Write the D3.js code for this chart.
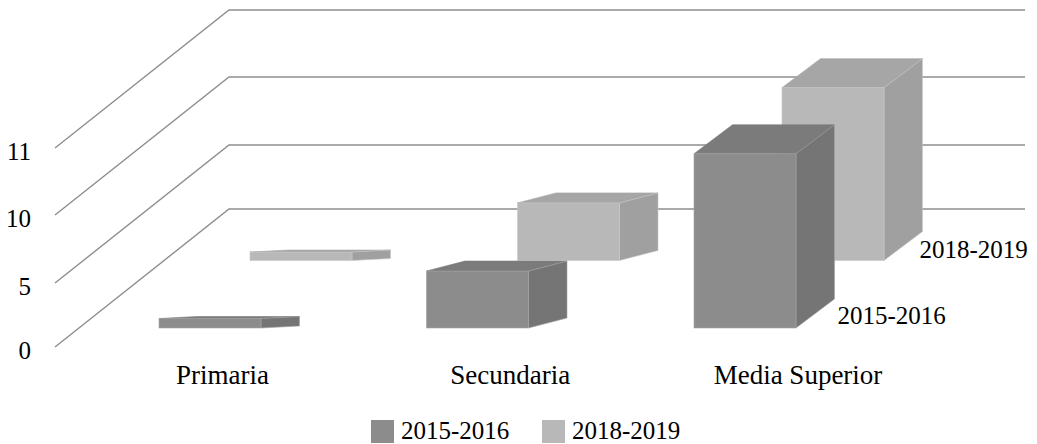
<!DOCTYPE html>
<html>
<head>
<meta charset="utf-8">
<title>Primaria, Secundaria, Media Superior</title>
<style>
  html, body { margin: 0; background: #fff; }
  svg { display: block; background: #fff; }
  text { font-family: "Liberation Serif", serif; font-size: 25px; fill: #000; }
  .xlabels text { font-size: 27px; }
  .grid { fill: none; stroke: #8e8e8e; stroke-width: 1.4; }
  .face { stroke-width: 0.6; }
</style>
</head>
<body>
<script src="https://d3js.org/d3.v7.min.js"></script>
<script>

// data
var categories = ["Primaria", "Secundaria", "Media Superior"];
var seriesNames = ["2015-2016", "2018-2019"];
var values2015 = [0.74, 4.45, 10.63];
var values2018 = [0.66, 4.5, 10.61];
var yTicks = [0, 5, 10, 11];

var width = 1037, height = 444;

// colours for each series: front, top, side, edge
var frontColor = d3.scaleOrdinal(seriesNames, ["#8c8c8c", "#b8b8b8"]);
var topColor = d3.scaleOrdinal(seriesNames, ["#7b7b7b", "#a6a6a6"]);
var sideColor = d3.scaleOrdinal(seriesNames, ["#757575", "#a0a0a0"]);
var edgeColor = d3.scaleOrdinal(seriesNames, ["#a4a4a4", "#c8c8c8"]);

// the axis ticks are not evenly spaced in the original
var y = d3.scaleLinear().domain(yTicks).range([347, 283, 215, 148]);

// where each group of bars starts, and where its label sits
var barX = d3.scalePoint().domain(categories).range([159, 694]);
var labelX = d3.scalePoint().domain(categories).range([222, 797.5]);
var barWidth = 102;

// the second series is pushed back and to the right
var seriesBase = d3.scaleOrdinal(seriesNames, [328, 260.5]);
var seriesShift = d3.scaleOrdinal(seriesNames, [0, 1]);
var shiftByCategory = d3.scaleOrdinal(categories, [91, 91, 88]);

// fake perspective: the depth rises more the further right the bar is
var depthX = 38.5;
var depthRise = d3.scaleOrdinal(categories, [2, 10, 29]);

// back wall is the front axis moved by this much
var wallX0 = 229, wallX1 = 1025, wallRise = 138, axisX = 55;

var svg = d3.select("body").append("svg")
    .attr("width", width)
    .attr("height", height);

// gridlines, side wall and back wall
svg.append("g").selectAll("path")
    .data(yTicks)
  .enter().append("path")
    .attr("class", "grid")
    .attr("d", function(d) {
      var p = d3.path();
      p.moveTo(axisX, y(d));
      p.lineTo(wallX0, y(d) - wallRise);
      p.lineTo(wallX1, y(d) - wallRise);
      return p.toString();
    });

// y axis labels
var yAxis = svg.append("g")
    .attr("transform", "translate(31,0)")
    .call(d3.axisLeft(y).tickValues(yTicks).tickSize(0).tickPadding(0));
yAxis.select(".domain").remove();
yAxis.attr("font-family", null).attr("font-size", null);
yAxis.selectAll("text").attr("dy", 11);

// category labels
var xAxis = svg.append("g")
    .attr("class", "xlabels")
    .attr("transform", "translate(0,384)")
    .call(d3.axisBottom(labelX).tickSize(0).tickPadding(0));
xAxis.select(".domain").remove();
xAxis.attr("font-family", null).attr("font-size", null);
xAxis.selectAll("text").attr("y", 0).attr("dy", 0);

// one record per bar, back series first so the front one paints over it
var bars = [];
[[seriesNames[1], values2018], [seriesNames[0], values2015]].forEach(function(s) {
  categories.forEach(function(c, i) {
    bars.push({ series: s[0], category: c, value: s[1][i] });
  });
});

function barBox(d) {
  var x0 = barX(d.category) + seriesShift(d.series) * shiftByCategory(d.category);
  var bottom = seriesBase(d.series);
  var top = bottom - (y(0) - y(d.value));
  return { x0: x0, x1: x0 + barWidth, top: top, bottom: bottom, dy: depthRise(d.category) };
}

var line = d3.line();

var bar = svg.append("g").selectAll("g")
    .data(bars)
  .enter().append("g");

bar.append("path")
    .attr("class", "face")
    .attr("fill", function(d) { return topColor(d.series); })
    .attr("stroke", function(d) { return topColor(d.series); })
    .attr("d", function(d) {
      var b = barBox(d);
      return line([[b.x0, b.top], [b.x0 + depthX, b.top - b.dy], [b.x1 + depthX, b.top - b.dy], [b.x1, b.top]]) + "Z";
    });

bar.append("path")
    .attr("class", "face")
    .attr("fill", function(d) { return sideColor(d.series); })
    .attr("stroke", function(d) { return edgeColor(d.series); })
    .attr("d", function(d) {
      var b = barBox(d);
      return line([[b.x1, b.top], [b.x1 + depthX, b.top - b.dy], [b.x1 + depthX, b.bottom - b.dy], [b.x1, b.bottom]]) + "Z";
    });

bar.append("rect")
    .attr("class", "face")
    .attr("fill", function(d) { return frontColor(d.series); })
    .attr("stroke", function(d) { return edgeColor(d.series); })
    .attr("x", function(d) { return barBox(d).x0; })
    .attr("y", function(d) { return barBox(d).top; })
    .attr("width", barWidth)
    .attr("height", function(d) { var b = barBox(d); return b.bottom - b.top; });

// series names next to the last bars
var endLabelX = d3.scaleOrdinal(seriesNames, [837.5, 919.5]);
var endLabelY = d3.scaleOrdinal(seriesNames, [324, 258]);
svg.append("g").selectAll("text")
    .data(seriesNames)
  .enter().append("text")
    .attr("x", function(d) { return endLabelX(d); })
    .attr("y", function(d) { return endLabelY(d); })
    .text(function(d) { return d; });

// legend
var legendX = d3.scaleOrdinal(seriesNames, [371, 542]);
var legend = svg.append("g").selectAll("g")
    .data(seriesNames)
  .enter().append("g")
    .attr("transform", function(d) { return "translate(" + legendX(d) + ",420)"; });
legend.append("rect")
    .attr("width", 23)
    .attr("height", 23)
    .attr("fill", function(d) { return frontColor(d); });
legend.append("text")
    .attr("x", 30)
    .attr("y", 18.5)
    .text(function(d) { return d; });

</script>
</body>
</html>
